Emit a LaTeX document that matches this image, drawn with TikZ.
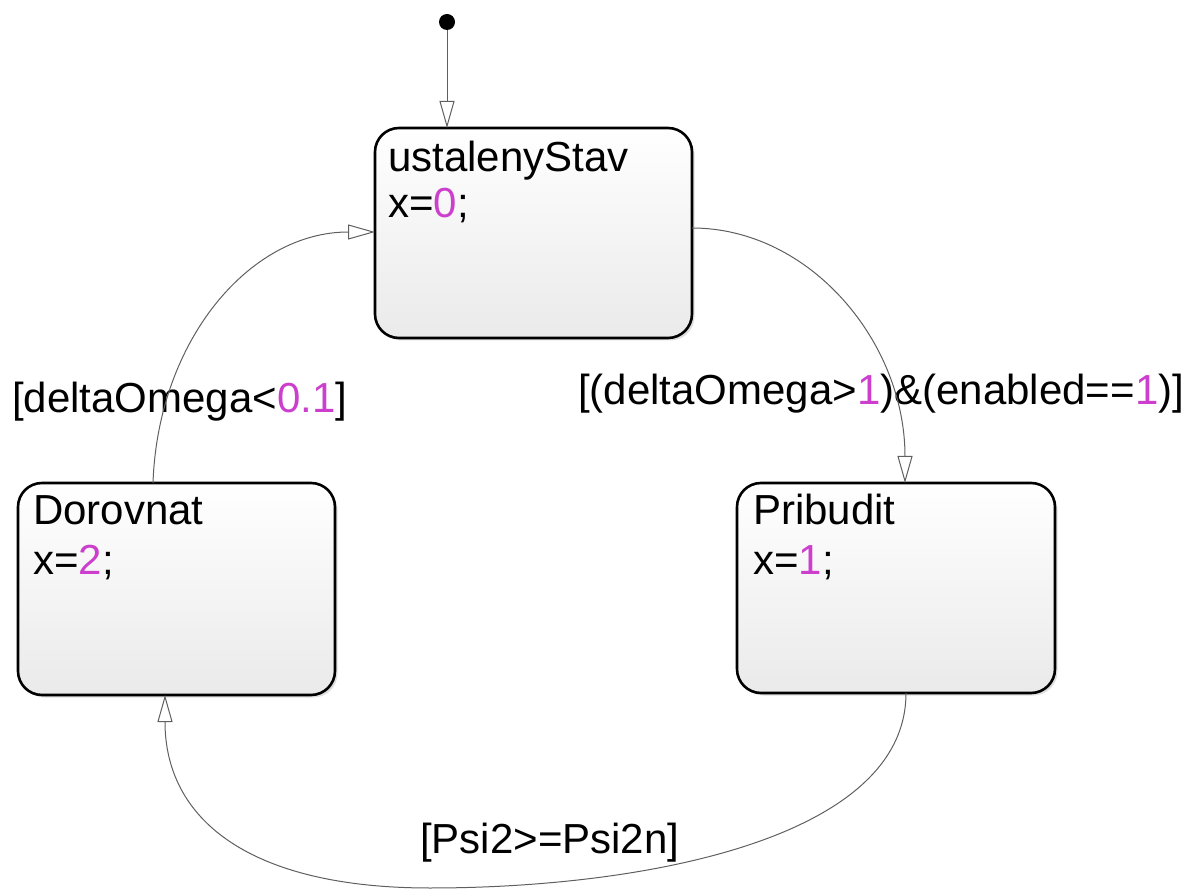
\documentclass[tikz,border=0pt]{standalone}
\usepackage{fontspec}
\setmainfont{Liberation Sans}
\usetikzlibrary{arrows.meta,shadows}
\definecolor{numcol}{RGB}{204,62,204}
\definecolor{linecol}{RGB}{95,95,95}
\definecolor{boxbot}{RGB}{234,234,234}
\tikzset{
  statebox/.style={draw=black, line width=2.6pt, rounded corners=24pt, top color=white, bottom color=boxbot,
    drop shadow={opacity=0.25, shadow xshift=2.5pt, shadow yshift=-2.5pt}},
  txt/.style={anchor=base west, inner sep=0pt, font=\fontsize{42}{50}\selectfont},
  trans/.style={draw=linecol, line width=1pt, -{Triangle[open, length=27pt, width=15pt, fill=white]}},
}
\newcommand{\num}[1]{\textcolor{numcol}{#1}}
\begin{document}
\begin{tikzpicture}[x=1pt,y=-1pt]
\useasboundingbox (0,0) rectangle (1187,890);
% states
\path[statebox] (375,128) rectangle (692,338);
\path[statebox] (18,483) rectangle (335,695);
\path[statebox] (737,483) rectangle (1055,693);
\coordinate (ustTop) at (447,128);
\coordinate (ustLeft) at (375,232);
\coordinate (ustRight) at (692,228);
\coordinate (dorTop) at (153,483);
\coordinate (dorBot) at (165,695);
\coordinate (priTop) at (905,483);
\coordinate (priBot) at (906,693);
\node[txt] (ustName) at (388,172) {ustalenyStav};
\node[txt] (ustAct) at (388,218) {x=\num{0};};
\node[txt] (dorName) at (33,525) {Dorovnat};
\node[txt] (dorAct) at (33,575) {x=\num{2};};
\node[txt] (priName) at (753,525) {Pribudit};
\node[txt] (priAct) at (753,575) {x=\num{1};};
% labels
\node[txt] (lab1) at (12,413) {[deltaOmega<\num{0.1}]};
\node[txt] (lab2) at (578,405) {[(deltaOmega>\num{1})\&(enabled==\num{1})]};
\node[txt] (lab3) at (420,853) {[Psi2>=Psi2n]};
% initial
\fill (447,22) circle (8pt);
\coordinate (init) at (447,30);
\draw[trans] (init) -- (ustTop);
% transitions
\draw[trans] (ustRight) .. controls (810,228) and (905,342) .. (priTop);
\draw[trans] (priBot) .. controls (906,840) and (640,888) .. (430,888) .. controls (250,888) and (165,820) .. (dorBot);
\draw[trans] (dorTop) .. controls (158,340) and (250,232) .. (ustLeft);
\end{tikzpicture}
\end{document}
